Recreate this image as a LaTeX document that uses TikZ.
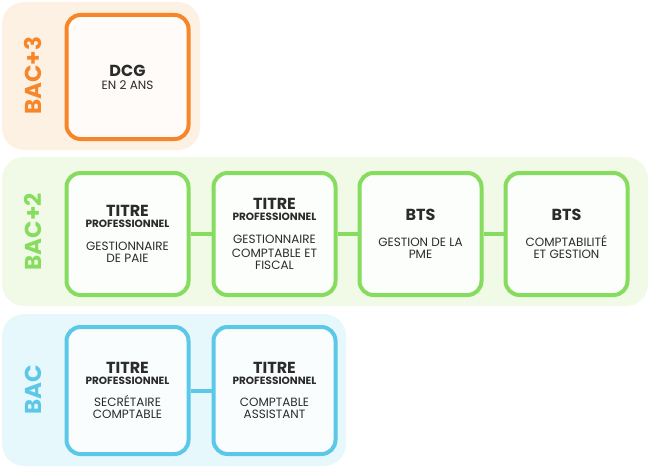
\documentclass[tikz,border=0pt]{standalone}
\usepackage{fontspec}
\setmainfont{Poppins}
\definecolor{ora}{HTML}{F7862A}\definecolor{orabg}{HTML}{FDF1E4}
\definecolor{gre}{HTML}{86DC5E}\definecolor{grebg}{HTML}{F1FAE6}
\definecolor{blu}{HTML}{5BC8E8}\definecolor{blubg}{HTML}{E6F8FB}
\definecolor{txt}{HTML}{2B2B2B}
\tikzset{x=1pt,y=-1pt,
 band/.style={rounded corners=22pt},
 card/.style={draw=#1,line width=4pt,rounded corners=14pt,fill=white!60!#1!8,minimum width=122pt,minimum height=122pt,text=txt,align=center,text width=118pt,inner sep=0pt},
 link/.style={draw=#1,line width=4pt},
 lvl/.style={rotate=90,font=\bfseries\fontsize{23}{23}\selectfont,text=#1}}
\newcommand{\tp}[1]{{\bfseries\fontsize{16}{17}\selectfont TITRE}\\[-1pt]{\bfseries\fontsize{10.5}{12}\selectfont PROFESSIONNEL}\\[8pt]{\fontsize{12}{14.5}\selectfont #1}}
\begin{document}
\begin{tikzpicture}
\useasboundingbox (0,0) rectangle (650,468);
\fill[orabg,band] (2,2) rectangle (200,150);
\fill[grebg,band] (2,157) rectangle (648,306);
\fill[blubg,band] (2,314) rectangle (346,466);
\node[lvl=ora] (l3) at (33,76) {BAC+3};
\node[lvl=gre] (l2) at (33,232) {BAC+2};
\node[lvl=blu] (l1) at (33,390) {BAC};
\node[card=ora,minimum height=124pt] (dcg) at (127.5,77) {{\bfseries\fontsize{16}{17}\selectfont DCG}\\[1pt]{\fontsize{12}{14}\selectfont EN 2 ANS}\\[14pt]};
\node[card=gre] (g1) at (127.5,234) {\tp{GESTIONNAIRE\\DE PAIE}\\[14pt]};
\node[card=gre] (g2) at (274.5,234) {\tp{GESTIONNAIRE\\COMPTABLE ET\\FISCAL}};
\node[card=gre] (g3) at (420.5,234) {{\bfseries\fontsize{16}{17}\selectfont BTS}\\[12pt]{\fontsize{12}{14.5}\selectfont GESTION DE LA\\PME}\\[14pt]};
\node[card=gre] (g4) at (566.5,234) {{\bfseries\fontsize{16}{17}\selectfont BTS}\\[12pt]{\fontsize{12}{14.5}\selectfont COMPTABILITÉ\\ET GESTION}\\[14pt]};
\node[card=blu,minimum height=127pt] (b1) at (127.5,390.5) {\tp{SECRÉTAIRE\\COMPTABLE}};
\node[card=blu,minimum height=127pt] (b2) at (274.5,390.5) {\tp{COMPTABLE\\ASSISTANT}};
\draw[link=gre] (g1) -- (g2); \draw[link=gre] (g2) -- (g3); \draw[link=gre] (g3) -- (g4);
\draw[link=blu] (b1) -- (b2);
\end{tikzpicture}
\end{document}
